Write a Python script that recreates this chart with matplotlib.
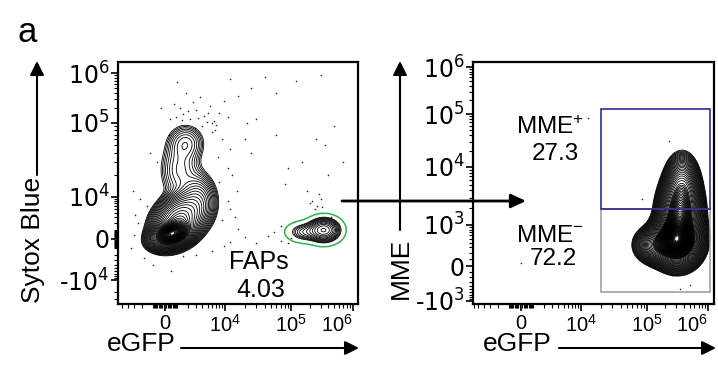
import numpy as np
import matplotlib
matplotlib.use("Agg")
import matplotlib.pyplot as plt
from matplotlib.patches import Rectangle, FancyArrowPatch

plt.rcParams["font.family"] = ["Liberation Sans", "DejaVu Sans"]
plt.rcParams["mathtext.fontset"] = "custom"
plt.rcParams["mathtext.rm"] = "Liberation Sans"
plt.rcParams["mathtext.it"] = "Liberation Sans:italic"
plt.rcParams["mathtext.bf"] = "Liberation Sans:bold"

W, H = 718, 366

# ---------------- data ----------------
# left plot (eGFP vs Sytox Blue): populations as gaussian blobs
# centre in data units, spread in display px, correlation, relative weight
left_cx = [546, 1130, 3280, 1800, 1220, 3.4e5, 1.68e5]
left_cy = [556, 2500, 8440, 5.4e4, 2.32e4, 1030, 790]
left_sx = [9, 12, 9, 10, 11, 8, 9]
left_sy = [6, 12, 13, 10, 16, 6, 5]
left_rho = [0.3, 0.3, 0.0, 0.0, 0.0, 0.0, 0.0]
left_w = [1.0, 0.3, 0.05, 0.02, 0.02, 0.045, 0.012]
faps_idx = [5, 6]

# scattered events (eGFP, Sytox Blue)
left_dots_x = [900, 1500, 2200, 3000, 4200, 5500, 2600, 1200, 6500, 8000, 3600,
               1800, 700, 9500, 4800, 2000, 3300, 5000, 1000, 12000, 2.5e4,
               4e4, 1.2e5, 3e5, 6e4, 2.5e4, 6e4, 1.5e5, 2.5e5, 4e5, 3.5e5,
               8e4, 1.8e5, 5e5, 7e5, 3e4, 9e4, 2.2e5, 2.6e5, 3e5, 2.4e5,
               2.8e5, 2.0e5, 3.2e5, 1.2e4, 2e4, 3e4, 4.5e4, 7e4, 1e5, 5.5e4,
               1.6e4, 9e3, -2500, -1800, -3000, -1500, -2200, -1000, -3500,
               12000, 15000, 11000, -600, 7000, 2800, 1400, 4000, 6000, 500,
               6800, 9000, 1.2e4, 7500, 1.3e4, 8000, 1.1e4, 1.4e4, 9500, 6000,
               3000, 1500, -500, -2800, -3200, -1200, 300, 400, 6000, 1.1e4,
               -300, 1.6e4, 2e4, 2.2e4, 7e4, 9e4, 1.1e5, 5e5, 6e5, 4.5e5]
left_dots_y = [1.3e5, 1.5e5, 1.2e5, 1.8e5, 1.4e5, 2.2e5, 2.6e5, 2.0e5, 1.1e5,
               1.6e5, 3.3e5, 3.9e5, 2.4e5, 2.8e5, 1.05e5, 1.7e5, 1.25e5,
               1.6e5, 6.5e5, 7.5e5, 5e5, 8.5e5, 7e5, 9e5, 4e5, 4e4, 7e4, 3e4,
               6e4, 2e4, 5e4, 1.5e4, 1.2e4, 9e4, 3e4, 1.2e5, 2.5e4, 8e3, 6e3,
               9e3, 5e3, 1.1e4, 7e3, 5.5e3, -300, 200, -500, 300, -200, 100,
               800, 1200, 2500, 2000, -2500, 500, 6000, 9000, -4000, -1000,
               5000, 12000, 25000, 3e4, 9.5e4, 8.5e4, 1.15e5, 9e4, 7.5e4,
               -6000, 8e4, 6e4, 4.5e4, 3.5e4, 2e4, 1.6e4, 8000, 3000, -800,
               -1500, -2000, -2200, -1800, 3500, 12000, 40000, 70000, 1.2e5,
               1e5, 1.3e5, 2e5, 3.5e5, 6e4, 1e5, 1500, -500, 2200, 1800, -300,
               3000]

# right plot (eGFP vs MME)
right_cx = [3.1e5, 1.63e5, 3.47e5, 3.75e5]
right_cy = [465, 346, 1497, 4380]
right_sx = [10, 10, 9, 7.5]
right_sy = [11, 8, 16, 14]
right_rho = [0.0, 0.0, 0.0, 0.0]
right_w = [1.0, 0.25, 0.5, 0.18]

right_dots_x = [2.3e5, 8.5e4, 2.6e5, 5e5, 3.5e5, 1.3e4, 0]
right_dots_y = [3.1e4, 2.8e3, -154, -372, -486, 8.4e4, 42]

# gates on the right plot: eGFP range, MME boundaries
gate_x = [2.0e4, 1.08e6]
gate_y_pos = [1905, 1.28e5]
gate_y_neg = [-588, 1905]

fap_label = ["FAPs", "4.03"]
mme_pos_label = ["MME$^{+}$", "27.3"]
mme_neg_label = ["MME$^{-}$", "72.2"]

# axis scale anchors (value -> pixel)
lx_vals = [-1e4, 0, 1e4, 1e5, 1e6]
lx_pix = [105, 165, 225, 291, 353]
ly_vals = [-1e4, 0, 1e4, 1e5, 1e6]
ly_rows = [280, 239, 197, 123, 73]
rx_vals = [-1e4, 0, 1e4, 1e5, 1e6]
rx_pix = [461, 521, 581, 647, 708]
ry_vals = [-1e3, 0, 1e3, 1e4, 1e5, 1e6]
ry_rows = [301, 266, 225, 167, 114, 67]


def make_scale(vals, pix, c):
    u = np.arcsinh(np.asarray(vals, float) / c)
    p = np.asarray(pix, float)
    s0 = (p[1] - p[0]) / (u[1] - u[0])
    s1 = (p[-1] - p[-2]) / (u[-1] - u[-2])

    def fwd(v):
        uu = np.arcsinh(np.asarray(v, float) / c)
        out = np.interp(uu, u, p)
        out = np.where(uu < u[0], p[0] + (uu - u[0]) * s0, out)
        out = np.where(uu > u[-1], p[-1] + (uu - u[-1]) * s1, out)
        return out

    def inv(q):
        q = np.asarray(q, float)
        uu = np.interp(q, p, u)
        uu = np.where(q < p[0], u[0] + (q - p[0]) / s0, uu)
        uu = np.where(q > p[-1], u[-1] + (q - p[-1]) / s1, uu)
        uu = np.clip(uu, -40, 40)
        return c * np.sinh(uu)

    return fwd, inv


def label(v):
    if v == 0:
        return "0"
    e = int(round(np.log10(abs(v))))
    s = r"$\mathregular{10^{%d}}$" % e
    return "-" + s if v < 0 else s


def minor_ticks(majors, lo, hi):
    out = []
    for n in range(2, 6):
        for k in range(1, 10):
            for sgn in (1, -1):
                v = sgn * k * 10 ** n
                if lo < v < hi and v not in majors:
                    out.append(v)
    return sorted(out)


def density(PX, PY, fx, fy, cx, cy, sx, sy, rho, w, idx):
    Z = np.zeros_like(PX)
    for i in idx:
        mx = fx(cx[i])
        my = fy(cy[i])
        dx = (PX - mx) / sx[i]
        dy = (PY - my) / sy[i]
        r = rho[i]
        Z += w[i] * np.exp(-(dx ** 2 - 2 * r * dx * dy + dy ** 2) / (2 * (1 - r ** 2)))
    return Z


def panel(box, xs, ys, xticks, yticks):
    left, top, right, bottom = box
    ax = fig.add_axes([left / W, (H - bottom) / H, (right - left) / W, (bottom - top) / H])
    fx, ix = xs
    fy, iy = ys
    ax.set_xscale("function", functions=(fx, ix))
    ax.set_yscale("function", functions=(fy, iy))
    x0, x1 = float(ix(left)), float(ix(right))
    y0, y1 = float(iy(H - bottom)), float(iy(H - top))
    ax.set_xlim(x0, x1)
    ax.set_ylim(y0, y1)
    ax.set_xticks(xticks, [label(v) for v in xticks])
    ax.set_yticks(yticks, [label(v) for v in yticks])
    ax.set_xticks(minor_ticks(xticks, x0, x1), minor=True)
    ax.set_yticks(minor_ticks(yticks, y0, y1), minor=True)
    ax.tick_params(which="major", direction="out", length=5, width=1.2)
    ax.tick_params(axis="x", which="major", pad=2, labelsize=14.5)
    ax.tick_params(axis="y", which="major", pad=1, labelsize=17)
    ax.tick_params(which="minor", direction="out", length=3, width=0.8)
    for t in ax.get_yticklabels():
        t.set_fontfamily("DejaVu Sans")
        t.set_math_fontfamily("dejavusans")
    # last x label kept inside the frame like the original
    ax.get_xticklabels()[-1].set_horizontalalignment("right")
    for sp in ax.spines.values():
        sp.set_linewidth(1.6)
    px = np.linspace(left, right, 420)
    py = np.linspace(H - bottom, H - top, 420)
    PX, PY = np.meshgrid(px, py)
    X, Y = np.meshgrid(ix(px), iy(py))
    return ax, PX, PY, X, Y


fig = plt.figure(figsize=(W / 100, H / 100), dpi=100)

# ---- left panel ----
lfx, lix = make_scale(lx_vals, lx_pix, 2000)
lfy, liy = make_scale(ly_vals, [H - r for r in ly_rows], 2000)
axL, PX, PY, X, Y = panel((118, 62, 358, 304), (lfx, lix), (lfy, liy),
                          [0, 1e4, 1e5, 1e6], [-1e4, 0, 1e4, 1e5, 1e6])
Z = density(PX, PY, lfx, lfy, left_cx, left_cy, left_sx, left_sy, left_rho,
            left_w, range(len(left_w)))
Z /= Z.max()
levels_l = np.concatenate([np.geomspace(0.004, 0.2, 20), np.linspace(0.23, 0.97, 26)])
axL.scatter(left_dots_x, left_dots_y, s=1.3, c="#222222", linewidths=0, zorder=1)
axL.contour(X, Y, Z, levels=levels_l, colors="black", linewidths=0.6, zorder=2)
Zf = density(PX, PY, lfx, lfy, left_cx, left_cy, left_sx, left_sy, left_rho,
             left_w, faps_idx)
axL.contour(X, Y, Zf / Zf.max(), levels=[0.02], colors="#2db34a",
            linewidths=1.1, zorder=3)

# ---- right panel ----
rfx, rix = make_scale(rx_vals, rx_pix, 2000)
rfy, riy = make_scale(ry_vals, [H - r for r in ry_rows], 300)
axR, PX, PY, X, Y = panel((473, 62, 714, 304), (rfx, rix), (rfy, riy),
                          [0, 1e4, 1e5, 1e6], [-1e3, 0, 1e3, 1e4, 1e5, 1e6])
Z = density(PX, PY, rfx, rfy, right_cx, right_cy, right_sx, right_sy, right_rho,
            right_w, range(len(right_w)))
Z /= Z.max()
levels_r = np.concatenate([np.geomspace(0.004, 0.2, 26), np.linspace(0.22, 0.98, 50)])
axR.scatter(right_dots_x, right_dots_y, s=1.3, c="#222222", linewidths=0, zorder=1)
axR.contour(X, Y, Z, levels=levels_r, colors="black", linewidths=0.6, zorder=2)
axR.add_patch(Rectangle((gate_x[0], gate_y_pos[0]), gate_x[1] - gate_x[0],
                        gate_y_pos[1] - gate_y_pos[0], fill=False,
                        edgecolor="#1c1c8c", linewidth=1.1, zorder=4))
axR.add_patch(Rectangle((gate_x[0], gate_y_neg[0]), gate_x[1] - gate_x[0],
                        gate_y_neg[1] - gate_y_neg[0], fill=False,
                        edgecolor="#999999", linewidth=1.1, zorder=3))


# ---- texts and arrows (figure pixels) ----
def fp(x, row):
    return (x / W, 1 - row / H)


fig.text(*fp(27, 33), "a", fontsize=25, ha="center", va="center")
fig.text(*fp(259, 262), fap_label[0], fontsize=18, ha="center", va="center")
fig.text(*fp(261, 290), fap_label[1], fontsize=18, ha="center", va="center")
fig.text(*fp(550, 128), mme_pos_label[0], fontsize=17.5, ha="center", va="center")
fig.text(*fp(555, 154), mme_pos_label[1], fontsize=17.5, ha="center", va="center")
fig.text(*fp(550, 236), mme_neg_label[0], fontsize=17.5, ha="center", va="center")
fig.text(*fp(553, 259), mme_neg_label[1], fontsize=17.5, ha="center", va="center")

fig.text(*fp(33, 240), "Sytox Blue", fontsize=19, rotation=90, ha="center", va="center")
fig.text(*fp(401, 268), "MME", fontsize=19, rotation=90, ha="center", va="center")
fig.text(*fp(141, 344), "eGFP", fontsize=19, ha="center", va="center")
fig.text(*fp(517, 344), "eGFP", fontsize=19, ha="center", va="center")


def arrow(a, b, lw=1.5, hl=0.7, hw=0.35, ms=12):
    fig.add_artist(FancyArrowPatch(
        fp(*a), fp(*b), transform=fig.transFigure,
        arrowstyle="-|>,head_length=%g,head_width=%g" % (hl, hw),
        mutation_scale=ms, linewidth=lw, color="black",
        shrinkA=0, shrinkB=0))


arrow((37, 175), (37, 61))
arrow((400, 230), (400, 61))
arrow((181, 348), (359, 348))
arrow((559, 348), (716, 348))
arrow((342, 201), (526, 201), lw=2.0, hl=0.75, hw=0.35)

fig.savefig("out.png", dpi=100)
